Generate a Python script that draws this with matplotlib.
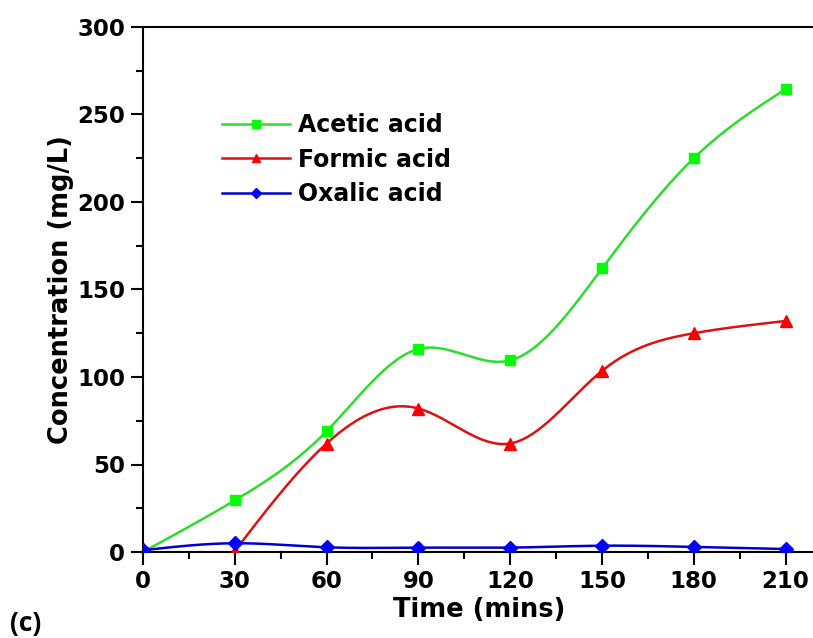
import numpy as np
import matplotlib
matplotlib.use("Agg")
import matplotlib.pyplot as plt
from matplotlib.ticker import MultipleLocator

plt.rcParams['font.family'] = ['DejaVu Sans']

# data
time_acetic = [0, 30, 60, 90, 120, 150, 180, 210]
acetic = [0, 29.5, 69, 116, 109.5, 162, 225, 264.5]

time_formic = [30, 60, 90, 120, 150, 180, 210]
formic = [0.5, 62, 82, 62, 103.5, 125, 132]

time_oxalic = [0, 30, 60, 90, 120, 150, 180, 210]
oxalic = [1, 5, 2.7, 2.5, 2.5, 3.6, 2.9, 1.7]

x_ticks = [0, 30, 60, 90, 120, 150, 180, 210]
y_ticks = [0, 50, 100, 150, 200, 250, 300]


def spline_curve(x, y, n=400):
    # natural cubic spline, like Origin's "spline" connect
    x = np.asarray(x, float)
    y = np.asarray(y, float)
    k = len(x)
    h = np.diff(x)
    A = np.zeros((k, k))
    b = np.zeros(k)
    A[0, 0] = 1
    A[-1, -1] = 1
    for i in range(1, k - 1):
        A[i, i - 1] = h[i - 1]
        A[i, i] = 2 * (h[i - 1] + h[i])
        A[i, i + 1] = h[i]
        b[i] = 6 * ((y[i + 1] - y[i]) / h[i] - (y[i] - y[i - 1]) / h[i - 1])
    M = np.linalg.solve(A, b)
    xs = np.linspace(x[0], x[-1], n)
    idx = np.clip(np.searchsorted(x, xs) - 1, 0, k - 2)
    x0, x1 = x[idx], x[idx + 1]
    hh = x1 - x0
    t0 = x1 - xs
    t1 = xs - x0
    ys = (M[idx] * t0 ** 3 + M[idx + 1] * t1 ** 3) / (6 * hh) \
        + (y[idx] / hh - M[idx] * hh / 6) * t0 \
        + (y[idx + 1] / hh - M[idx + 1] * hh / 6) * t1
    return xs, ys


fig = plt.figure(figsize=(8.13, 6.38), dpi=100)
ax = fig.add_axes([143 / 813, 1 - 552 / 638, 1 - 143 / 813 + 0.002, (552 - 27) / 638])

series = [
    (time_acetic, acetic, '#2ddc2d', '#00ff00', 's', 7.5, 'Acetic acid'),
    (time_formic, formic, '#dd1111', '#ff0000', '^', 8.5, 'Formic acid'),
    (time_oxalic, oxalic, '#0000cc', '#0000ff', 'D', 7, 'Oxalic acid'),
]
for xv, yv, lc, mc, mk, ms, lab in series:
    xs, ys = spline_curve(xv, yv)
    ax.plot(xs, ys, color=lc, lw=1.8, zorder=2)
    ax.plot(xv, yv, ls='none', marker=mk, ms=ms, color=mc, zorder=3)
    ax.plot([], [], color=lc, lw=1.8, marker=mk, ms=ms * 0.75,
            markerfacecolor=mc, markeredgecolor=mc, label=lab)

ax.set_xlim(0, 219.5)
ax.set_ylim(0, 300)
ax.set_xticks(x_ticks)
ax.set_yticks(y_ticks)
ax.xaxis.set_minor_locator(MultipleLocator(15))
ax.yaxis.set_minor_locator(MultipleLocator(25))
ax.tick_params(which='major', direction='out', length=9, width=1.5,
               labelsize=16.5, pad=4)
ax.tick_params(which='minor', direction='out', length=5, width=1.5)
for lab in ax.get_xticklabels() + ax.get_yticklabels():
    lab.set_fontweight('bold')
for sp in ax.spines.values():
    sp.set_linewidth(1.5)
ax.spines['right'].set_visible(False)

ax.set_xlabel('Time (mins)', fontsize=18.5, fontweight='bold', labelpad=3)
ax.set_ylabel('Concentration (mg/L)', fontsize=18.5, fontweight='bold', labelpad=2)

ax.legend(loc='upper left', bbox_to_anchor=(0.118, 0.836), frameon=False,
          prop={'size': 17, 'weight': 'bold'}, handlelength=2.85,
          handletextpad=0.35, labelspacing=0.45, borderaxespad=0, borderpad=0)

fig.text(0.012, 0.002, '(c)', fontsize=19, fontweight='bold', va='bottom',
         family=['Open Sans', 'DejaVu Sans'])

fig.savefig('out.png', dpi=100)
plt.close()
